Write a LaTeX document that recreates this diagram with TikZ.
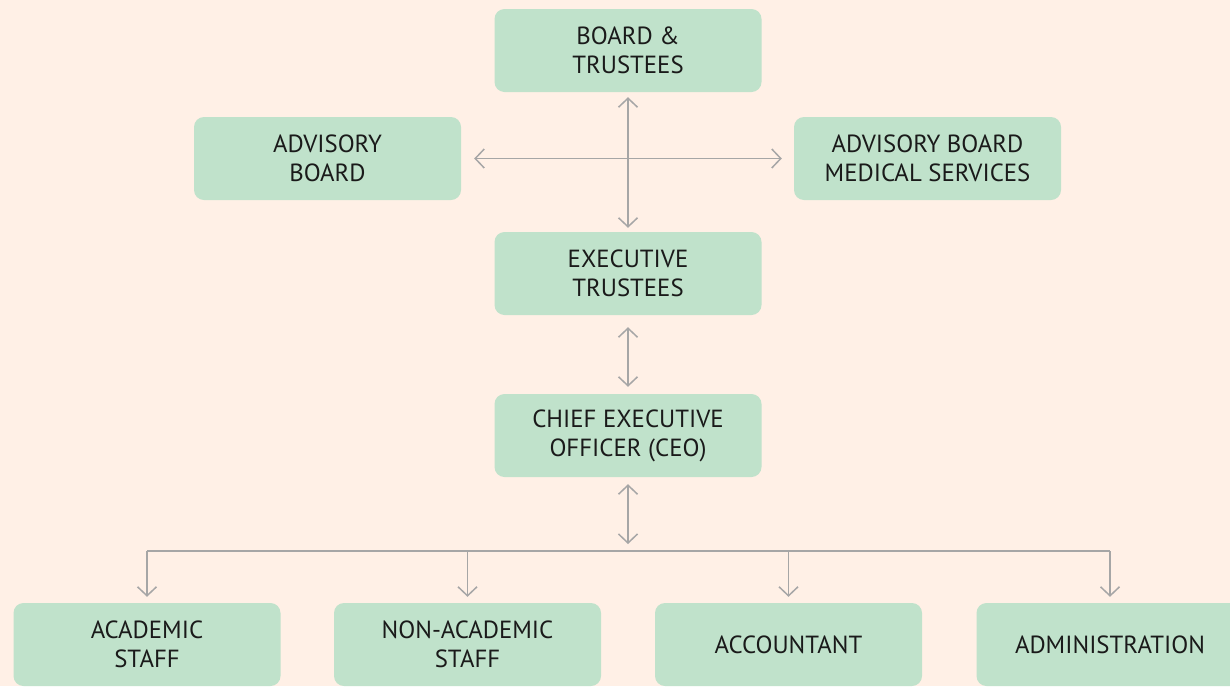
\documentclass[tikz,border=0pt]{standalone}
\usepackage{fontspec}
\setmainfont{PT Sans}
\usetikzlibrary{arrows.meta}
\definecolor{bgc}{RGB}{255,240,230}
\definecolor{boxc}{RGB}{192,226,203}
\definecolor{linec}{RGB}{166,166,166}
\definecolor{txtc}{RGB}{26,26,26}
\tikzset{
  orgbox/.style={fill=boxc, rounded corners=10pt, minimum width=267pt, minimum height=83pt,
    inner sep=0pt, align=center, text=txtc, font=\fontsize{24.8}{29}\selectfont},
  conn/.style={draw=linec, line width=1.5pt},
  tipb/.style={conn, arrows={-Straight Barb[length=9pt,width=19pt]}},
  tipbb/.style={conn, arrows={Straight Barb[length=9pt,width=19pt]-Straight Barb[length=9pt,width=19pt]}}
}
\begin{document}
\begin{tikzpicture}[x=1pt,y=-1pt]
\fill[bgc] (0,0) rectangle (1230,686);
\useasboundingbox (0,0) rectangle (1230,686);
\node[orgbox] (board) at (628,50.5) {BOARD \&\\TRUSTEES};
\node[orgbox] (advL) at (327.5,158.5) {ADVISORY\\BOARD};
\node[orgbox] (advR) at (927.5,158.5) {ADVISORY BOARD\\MEDICAL SERVICES};
\node[orgbox] (exec) at (628,273.5) {EXECUTIVE\\TRUSTEES};
\node[orgbox] (ceo) at (628,435.5) {CHIEF EXECUTIVE\\OFFICER (CEO)};
\node[orgbox] (acad) at (147,644.5) {ACADEMIC\\STAFF};
\node[orgbox] (nonac) at (467.5,644.5) {NON-ACADEMIC\\STAFF};
\node[orgbox] (acct) at (788.5,644.5) {ACCOUNTANT};
\node[orgbox] (admin) at (1110,644.5) {ADMINISTRATION};
\coordinate (bus) at (628,551);
\draw[tipbb] ([yshift=-5pt]board.south) -- ([yshift=4pt]exec.north);
\draw[tipbb] ([xshift=13pt]advL.east) -- ([xshift=-12pt]advR.west);
\draw[tipbb] ([yshift=-12pt]exec.south) -- ([yshift=7pt]ceo.north);
\draw[tipbb] ([yshift=-7pt]ceo.south) -- ([yshift=7pt]bus);
\draw[conn] (acad.north |- bus) -- (admin.north |- bus);
\foreach \n in {acad,nonac,acct,admin}{
  \draw[tipb] (\n.north |- bus) -- ([yshift=6pt]\n.north);
}
\end{tikzpicture}
\end{document}
